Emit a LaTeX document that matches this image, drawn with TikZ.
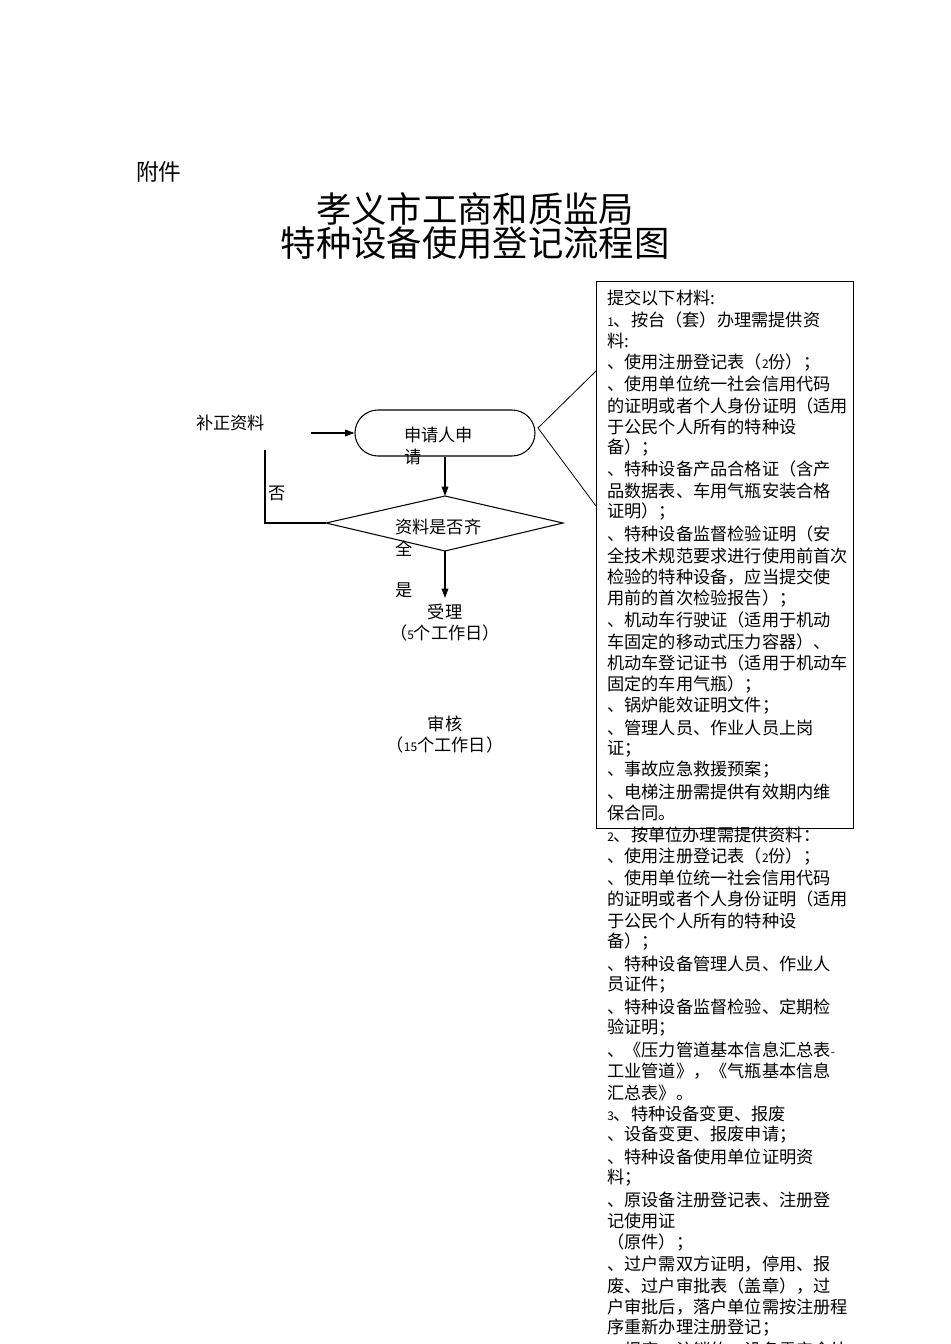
\documentclass[tikz,border=0pt]{standalone}
\usepackage{fontspec}
\setmainfont{Noto Sans CJK SC}
\usetikzlibrary{arrows.meta}
\begin{document}
\begin{tikzpicture}[x=0.75pt,y=-0.75pt,
  txt/.style={inner sep=0pt,font=\fontsize{12.9pt}{14pt}\selectfont},
  ln/.style={txt,anchor=west},
  arr/.style={-{Triangle[length=7pt,width=5pt]},line width=0.8pt},
  plain/.style={line width=0.8pt}]
\useasboundingbox (0,0) rectangle (950,1344);
\begin{scope}
\clip (0,0) rectangle (950,1344);
\node[txt,anchor=west,font=\fontsize{17pt}{18pt}\selectfont] (fj) at (136,172) {附件};
\node[txt,font=\fontsize{26.5pt}{28pt}\selectfont] (t1) at (475,209) {孝义市工商和质监局};
\node[txt,font=\fontsize{26.5pt}{28pt}\selectfont] (t2) at (475,243) {特种设备使用登记流程图};
% material box
\node[draw,plain,minimum width=257*0.75pt,minimum height=547*0.75pt,anchor=north west,inner sep=0pt] (box) at (596,281) {};
\foreach \y/\t in {298/{提交以下材料:},320/{{\small 1}、按台（套）办理需提供资},341/{料:},363/{、使用注册登记表（{\small 2}份）；},384/{、使用单位统一社会信用代码},406/{的证明或者个人身份证明（适用},427/{于公民个人所有的特种设},448/{备）；},469/{、特种设备产品合格证（含产},491/{品数据表、车用气瓶安装合格},512/{证明）；},534/{、特种设备监督检验证明（安},556/{全技术规范要求进行使用前首次},577/{检验的特种设备，应当提交使},599/{用前的首次检验报告）；},620/{、机动车行驶证（适用于机动},642/{车固定的移动式压力容器）、},663/{机动车登记证书（适用于机动车},685/{固定的车用气瓶）；},706/{、锅炉能效证明文件；},728/{、管理人员、作业人员上岗},749/{证；},770/{、事故应急救援预案；},792/{、电梯注册需提供有效期内维},813/{保合同。},835/{{\small 2}、按单位办理需提供资料：},857/{、使用注册登记表（{\small 2}份）；},878/{、使用单位统一社会信用代码},899/{的证明或者个人身份证明（适用},921/{于公民个人所有的特种设},942/{备）；},964/{、特种设备管理人员、作业人},985/{员证件；},1007/{、特种设备监督检验、定期检},1028/{验证明；},1050/{、《压力管道基本信息汇总表{\small -}},1071/{工业管道》，《气瓶基本信息},1093/{汇总表》。},1114/{{\small 3}、特种设备变更、报废},1135/{、设备变更、报废申请；},1157/{、特种设备使用单位证明资},1178/{料；},1200/{、原设备注册登记表、注册登},1221/{记使用证},1243/{（原件）；},1264/{、过户需双方证明，停用、报},1286/{废、过户审批表（盖章），过},1307/{户审批后，落户单位需按注册程},1328/{序重新办理注册登记；},1350/{、报废、注销的，设备需安全处}}
  \node[ln] at (607,\y) {\t};
% flowchart
\node[draw,plain,rounded corners=23*0.75pt,minimum width=180*0.75pt,minimum height=46*0.75pt,inner sep=0pt] (app) at (445,433) {};
\node[ln] (appt1) at (404,435) {申请人申};
\node[ln] (appt2) at (404,457) {请};
\node[ln] (bz) at (196,423) {补正资料};
\coordinate (inA) at (311,433);
\draw[arr] (inA) -- (app.west);
\coordinate (dl) at (326,523);
\coordinate (dt) at (445,496);
\coordinate (dr) at (563,523);
\coordinate (db) at (445,551);
\draw[plain] (dl) -- (dt) -- (dr) -- (db) -- cycle;
\node[ln] (dtx1) at (395,527) {资料是否齐};
\node[ln] (dtx2) at (395,549) {全};
\draw[arr] (app.south) -- (dt);
\coordinate (n1) at (265,450);
\coordinate (n2) at (265,523);
\draw[plain] (n1) -- (n2) -- (dl);
\node[ln] (fou) at (268,493) {否};
\node[ln] (shi) at (395,590) {是};
\coordinate (sl) at (445,598);
\draw[arr] (db) -- (sl);
\node[txt] (sl1) at (445,612) {受理};
\node[txt] (sl2) at (445,633) {（{\small 5}个工作日）};
\node[txt] (sh1) at (445,724) {审核};
\node[txt] (sh2) at (445,745) {（{\small 15}个工作日）};
\coordinate (c0) at (538,428);
\coordinate (c1) at (596,371);
\coordinate (c2) at (596,506);
\draw[line width=0.6pt] (c1) -- (c0) -- (c2);
\end{scope}
\end{tikzpicture}
\end{document}
